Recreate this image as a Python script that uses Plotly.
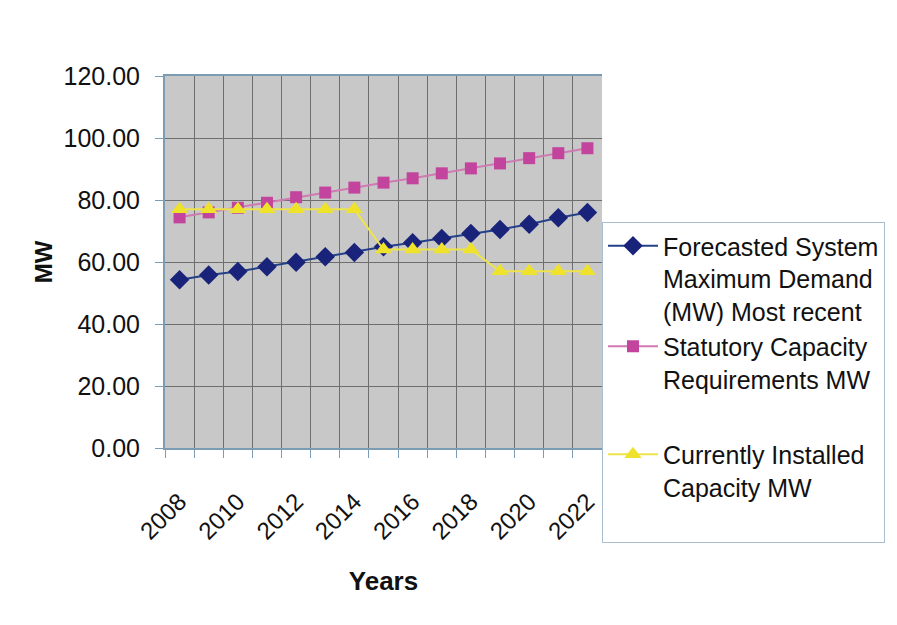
import plotly.graph_objects as go

# datos
anios = list(range(2008, 2023))
demanda_max = [54.3, 55.8, 56.9, 58.5, 59.9, 61.7, 63.1, 64.9, 66.2, 67.6, 69.2, 70.5, 72.2, 74.3, 76.0]
capacidad_estatutaria = [74.4, 76.0, 77.5, 79.1, 80.9, 82.4, 84.0, 85.6, 87.0, 88.6, 90.2, 91.8, 93.5, 95.1, 96.7]
capacidad_instalada = [77, 77, 77, 77, 77, 77, 77, 64, 64, 64, 64, 57, 57, 57, 57]

nombres = [
    "Forecasted System<br>Maximum Demand<br>(MW) Most recent",
    "Statutory Capacity<br>Requirements MW",
    "Currently Installed<br>Capacity MW<br>&nbsp;",
]

etiquetas_x = anios[::2]
bordes = [a - 0.5 for a in anios] + [anios[-1] + 0.5]

fuente = "Arial, Liberation Sans, sans-serif"
gris_rejilla = "#6e6e6e"
color_eje = "#7b9cb3"

fig = go.Figure()

fig.add_trace(
    go.Scatter(
        x=anios, y=demanda_max, mode="lines+markers", name=nombres[0],
        line=dict(color="#24408a", width=2),
        marker=dict(symbol="diamond", size=15, color="#1a237a"),
        legendgroup="a",
    )
)
fig.add_trace(
    go.Scatter(
        x=anios, y=capacidad_estatutaria, mode="lines+markers", name=nombres[1],
        line=dict(color="#cf7ab2", width=2),
        marker=dict(symbol="square", size=12, color="#c2449c"),
        legendgroup="a",
    )
)
fig.add_trace(
    go.Scatter(
        x=anios, y=capacidad_instalada, mode="lines+markers", name=nombres[2],
        line=dict(color="#eee44a", width=2),
        marker=dict(symbol="triangle-up", size=15, color="#efe22a"),
        legendgroup="b",
    )
)

fig.update_xaxes(
    range=[anios[0] - 0.5, anios[-1] + 0.5],
    automargin=False,
    tickmode="array",
    tickvals=etiquetas_x,
    ticktext=[str(a) for a in etiquetas_x],
    tickangle=-45,
    ticks="",
    ticklabelstandoff=28,
    showgrid=False,
    showline=True,
    linecolor=color_eje,
    linewidth=2,
    mirror=True,
    zeroline=False,
    tickfont=dict(family=fuente, size=24, color="#111111"),
    minor=dict(
        tickmode="array",
        tickvals=bordes,
        showgrid=True,
        gridcolor=gris_rejilla,
        gridwidth=1,
        ticks="outside",
        ticklen=8,
        tickcolor=color_eje,
    ),
    title=dict(text="<b>Years</b>", font=dict(family=fuente, size=26, color="#111111"), standoff=28),
)

fig.update_yaxes(
    range=[0, 120],
    automargin=False,
    dtick=20,
    tickformat=".2f",
    showgrid=True,
    gridcolor=gris_rejilla,
    gridwidth=1,
    ticks="outside",
    ticklen=8,
    tickcolor=color_eje,
    ticklabelstandoff=10,
    showline=True,
    linecolor=color_eje,
    linewidth=2,
    zeroline=False,
    tickfont=dict(family=fuente, size=25, color="#111111"),
    title=dict(text="<b>MW</b>", font=dict(family=fuente, size=24, color="#111111"), standoff=4),
)

# la página tiene 8px de margen en el body
fig.update_layout(
    width=889,
    height=617,
    margin=dict(l=157, r=290, t=68, b=177),
    plot_bgcolor="#c8c8c8",
    paper_bgcolor="white",
    showlegend=True,
    legend=dict(
        x=1.0, xanchor="left", y=0.6075, yanchor="top",
        bgcolor="white",
        bordercolor="#a9bfd0",
        borderwidth=1,
        valign="top",
        itemwidth=50,
        tracegroupgap=40,
        traceorder="grouped",
        font=dict(family=fuente, size=25, color="#111111"),
    ),
)

fig.write_html("out.html")
